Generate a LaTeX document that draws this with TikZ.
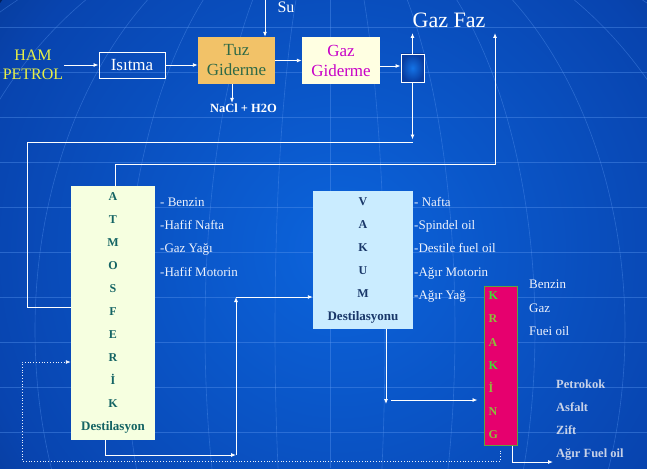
\documentclass[tikz,border=0pt]{standalone}
\usepackage{fontspec}
\setmainfont{Liberation Serif}
\newfontfamily\slidefont{Liberation Serif}
\usetikzlibrary{arrows.meta,positioning}
\definecolor{bgbright}{RGB}{12,100,220}
\definecolor{bgmid}{RGB}{8,68,175}
\definecolor{bgnavy}{RGB}{3,32,90}
\definecolor{gridblue}{RGB}{90,150,240}
\definecolor{hamyellow}{RGB}{232,240,70}
\definecolor{tuzfill}{RGB}{242,194,104}
\definecolor{tuzgreen}{RGB}{45,105,70}
\definecolor{gazfill}{RGB}{255,255,226}
\definecolor{gazmagenta}{RGB}{200,0,200}
\definecolor{sepglow}{RGB}{20,115,230}
\definecolor{sepdark}{RGB}{8,60,160}
\definecolor{atmfill}{RGB}{246,255,224}
\definecolor{atmteal}{RGB}{20,100,100}
\definecolor{vakfill}{RGB}{202,236,255}
\definecolor{vakblue}{RGB}{25,55,105}
\definecolor{krakfill}{RGB}{230,0,110}
\definecolor{krakborder}{RGB}{100,160,60}
\definecolor{krakgreen}{RGB}{60,225,50}
\definecolor{krakolive}{RGB}{140,190,60}
\definecolor{labelwhite}{RGB}{238,242,252}
\definecolor{labelgrey}{RGB}{200,210,232}
\pgfdeclareradialshading{globeglow}{\pgfpoint{0bp}{0bp}}{color(0bp)=(bgbright); color(22bp)=(bgmid); color(40bp)=(bgnavy); color(50bp)=(bgnavy)}
\tikzstyle{wire}=[draw=white,line width=0.9pt]
\tikzstyle{flow}=[wire,-{Latex[length=5pt,width=4pt]}]
\tikzstyle{dotflow}=[draw=labelwhite,line width=0.8pt,dotted,-{Latex[length=5pt,width=4pt]}]
\tikzstyle{gridline}=[draw=gridblue,line width=0.6pt,opacity=0.4]
\tikzstyle{unitbox}=[rectangle,inner sep=0pt,align=center]
\tikzstyle{sidetext}=[anchor=west,align=left,inner sep=0pt,text=labelwhite,font=\slidefont\fontsize{13}{23.3}\selectfont]

\begin{document}
\begin{tikzpicture}[x=1pt,y=-1pt]
	\useasboundingbox (0,0) rectangle (647,468);
	\fill[bgnavy] (0,0) rectangle (647,468);
	\begin{scope}
		\clip (0,0) rectangle (647,468);
		\shade[shading=globeglow] (340,250) circle (420);
		\foreach \gy in {27,72,...,432}
			\draw[gridline] (0,\gy) -- (647,\gy);
		\draw[gridline] (330,0) -- (330,468);
		\foreach \r in {55,125,205,295,395,505,625}
			\draw[gridline] (330,330) ellipse [x radius=\r, y radius=420];
	\end{scope}

	\node[text=hamyellow,align=center,inner sep=1pt,font=\slidefont\fontsize{16}{19}\selectfont] (ham) at (33,65) {HAM\\PETROL};
	\node[unitbox,draw=white,line width=0.9pt,minimum width=66pt,minimum height=26pt,text=white,font=\slidefont\fontsize{17}{20}\selectfont] (isitma) at (132,65) {Isıtma};
	\node[unitbox,fill=tuzfill,minimum width=77pt,minimum height=47pt,text=tuzgreen,font=\slidefont\fontsize{17}{20}\selectfont] (tuz) at (236.5,60.5) {Tuz\\Giderme};
	\node[unitbox,fill=gazfill,minimum width=78pt,minimum height=47pt,text=gazmagenta,font=\slidefont\fontsize{17}{20}\selectfont] (gaz) at (341,60.5) {Gaz\\Giderme};
	\node[unitbox,draw=white,line width=0.9pt,inner color=sepglow,outer color=sepdark,minimum width=23pt,minimum height=28pt] (sep) at (412.5,68) {};
		\node[text=white,inner sep=1pt,font=\slidefont\fontsize{16}{19}\selectfont] (su) at (286,7) {Su};
		\node[text=white,inner sep=1pt,font=\slidefont\bfseries\fontsize{12.5}{15}\selectfont] (nacl) at (243.5,108.5) {NaCl + H2O};
		\node[text=white,inner sep=1pt,font=\slidefont\fontsize{22}{26}\selectfont] (gazfaz) at (449,20) {Gaz Faz};

	\node[unitbox,fill=atmfill,minimum width=84pt,minimum height=254pt,text=atmteal,font=\slidefont\bfseries\fontsize{12}{23}\selectfont] (atm) at (113,313)
		{A\\T\\M\\O\\S\\F\\E\\R\\İ\\K\\{\fontsize{13}{23}\selectfont Destilasyon}};
		\node[sidetext] (atmout) at (160,237) {- Benzin\\-Hafif Nafta\\-Gaz Yağı\\-Hafif Motorin};
	\node[unitbox,fill=vakfill,minimum width=100pt,minimum height=138pt,text=vakblue,font=\slidefont\bfseries\fontsize{12}{23}\selectfont] (vakum) at (363,260)
		{V\\A\\K\\U\\M\\{\fontsize{13}{23}\selectfont Destilasyonu}};
		\node[sidetext] (vakout) at (414,249.8) {- Nafta\\-Spindel oil\\-Destile fuel oil\\-Ağır Motorin\\-Ağır Yağ};
	\node[unitbox,fill=krakfill,draw=krakborder,line width=1pt,minimum width=33pt,minimum height=159pt,text width=24pt,align=left,text=krakolive,font=\slidefont\bfseries\fontsize{12}{23.2}\selectfont] (krak) at (500.5,365.5)
		{{\color{krakgreen}K}\\R\\A\\{\color{krakgreen}K}\\İ\\N\\G};
		\node[sidetext] (krakout) at (529,308) {Benzin\\Gaz\\Fuei oil};
		\node[sidetext,text=labelgrey,font=\slidefont\bfseries\fontsize{12.5}{23}\selectfont] (krakres) at (556,419.7) {Petrokok\\Asfalt\\Zift\\Ağır Fuel oil};

	\coordinate (sutop) at (265,0);
	\coordinate (gastop) at (412.5,33);
	\coordinate (ret1) at (412.5,142);
	\coordinate (ret2) at (27,142);
	\coordinate (vent1) at (115,164);
	\coordinate (vent2) at (495,164);
	\coordinate (vent3) at (495,33);
	\coordinate (mid1) at (236,455);
	\coordinate (mid2) at (236,297);
	\coordinate (vdrop) at (386,404);
	\coordinate (kin) at (391,400);
	\coordinate (kout) at (553,462);
	\coordinate (rec1) at (22,461);

	\draw[flow] (ham.east |- isitma) -- (isitma);
	\draw[flow] (isitma) -- (tuz.west |- isitma);
	\draw[flow] (tuz) -- (gaz);
	\draw[flow] (gaz.east |- 0,66) -- (sep.west |- 0,66);
	\draw[flow] (sutop) -- (sutop |- tuz.north);
	\draw[flow] ([xshift=-4.5pt]tuz.south) -- ([xshift=-4.5pt]tuz.south |- nacl.north);
	\draw[flow] (sep.north) -- (gastop);
	\draw[flow] (sep.south) -- ([yshift=2.5pt]ret1);
	\draw[wire] (ret1) -- (ret2) |- ([yshift=6pt]atm.west);
	\draw[flow] (vent1 |- atm.north) -- (vent1) -- (vent2) -- (vent3);
	\draw[flow] ([xshift=-8pt]atm.south) |- (mid1);
	\draw[flow] (mid1) -- (mid2);
	\draw[flow] (mid2) -- (mid2 -| vakum.west);
	\draw[flow] (vdrop |- vakum.south) -- (vdrop);
	\draw[flow,shorten >=6pt] (kin) -- (kin -| krak.west);
	\draw[flow] ([xshift=11.5pt]krak.south) |- (kout);
	\draw[dotflow] ([yshift=-5pt]krak.south) |- (rec1) |- ([yshift=-49pt]atm.west);
\end{tikzpicture}
\end{document}
